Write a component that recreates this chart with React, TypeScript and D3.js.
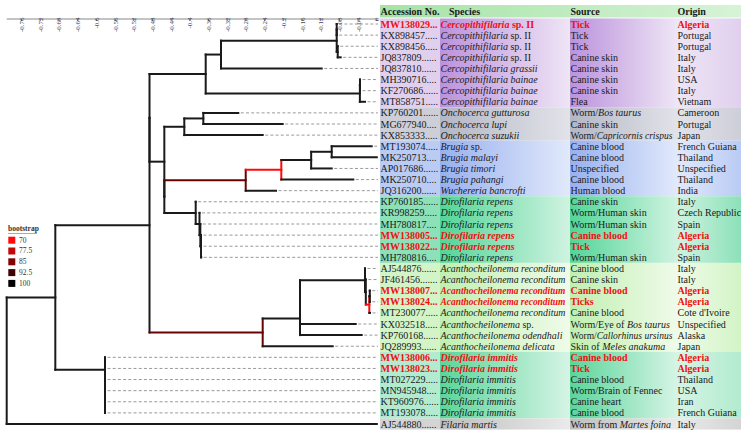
import React from "react";
import * as d3 from "d3";

const W = 747;
const H = 435;

// ---- tree (node label = bootstrap, ":" value = node position on the axis) ----
const cladeCercoSpII = "((L0:-0.0858,L1:-0.0858):-0.0858,(L2:-0.0836,L3:-0.0772):-0.0836)";
const cladeCercoInner = `(${cladeCercoSpII}:-0.0858,L4:-0.1179)`;
const cladeBainae = "((L5:-0.0359,L6:-0.0359):-0.0359,L7:-0.0252)";
const cladeCerco = `(${cladeCercoInner}:-0.3333,${cladeBainae}:-0.0362)`;
const cladeOncho = "((L8:-0.2963,L9:-0.2013):-0.3711,L10:-0.2441)";
const cladeBrugia = "((((L11:-0.0109,L12:0):-0.0965,L13:-0.0965):-0.1404,L14:-0.0503)70:-0.2043,L15:-0.2156)88";
const cladeRepens = "(L16:-0.3874,(L17:-0.3793,(L18:-0.3775,(L19:-0.376,L20:-0.376,L21:-0.3755):-0.376):-0.3775):-0.3793)";
const cladeMid = `(${cladeOncho}:-0.4118,(${cladeBrugia}:-0.2804,${cladeRepens}:-0.3874):-0.4545)`;
const cladeRecond = "(L22:-0.0252,(L23:-0.0235,((L24:-0.015,L25:-0.015):-0.015,L26:-0.0145)70:-0.016):-0.0235)";
const cladeAcanth = `(((${cladeRecond}:-0.0252,L27:-0.0451):-0.1643,L28:-0.0323):-0.1643,L29:-0.0943)88`;
const cladeImmitis = "(L30:-0.5814,(L31:-0.5814,(L32:-0.5814,L33:-0.5814,L34:-0.5814,L35:-0.5814):-0.5814):-0.5814)";
const cladeB = `((${cladeCerco}:-0.366,${cladeMid}:-0.4545):-0.4862,${cladeAcanth}:-0.2441)`;
const treeNewick = `((${cladeB}:-0.4862,${cladeImmitis}:-0.5814):-0.6877,L36:0):-0.7917;`;

// ---- table ----
const accessions = [
  "MW138029", "KX898457", "KX898456", "JQ837809", "JQ837810", "MH390716", "KF270686", "MT858751",
  "KP760201", "MG677940", "KX853333", "MT193074", "MK250713", "AP017686", "MK250710", "JQ316200",
  "KP760185", "KR998259", "MH780817", "MW138005", "MW138022", "MH780816", "AJ544876", "JF461456",
  "MW138007", "MW138024", "MT230077", "KX032518", "KP760168", "JQ289993", "MW138006", "MW138023",
  "MT027229", "MN945948", "KT960976", "MT193078", "AJ544880",
];
const species = [
  "*Cercopithifilaria* sp. II", "*Cercopithifilaria* sp. II", "*Cercopithifilaria* sp. II", "*Cercopithifilaria* sp. II",
  "*Cercopithifilaria grassii*", "*Cercopithifilaria bainae*", "*Cercopithifilaria bainae*", "*Cercopithifilaria bainae*",
  "*Onchocerca gutturosa*", "*Onchocerca lupi*", "*Onchocerca suzukii*",
  "*Brugia* sp.", "*Brugia malayi*", "*Brugia timori*", "*Brugia pahangi*", "*Wuchereria bancrofti*",
  "*Dirofilaria repens*", "*Dirofilaria repens*", "*Dirofilaria repens*", "*Dirofilaria repens*", "*Dirofilaria repens*", "*Dirofilaria repens*",
  "*Acanthocheilonema reconditum*", "*Acanthocheilonema reconditum*", "*Acanthocheilonema reconditum*", "*Acanthocheilonema reconditum*",
  "*Acanthocheilonema reconditum*", "*Acanthocheilonema* sp.", "*Acanthocheilonema odendhali*", "*Acanthocheilonema delicata*",
  "*Dirofilaria immitis*", "*Dirofilaria immitis*", "*Dirofilaria immitis*", "*Dirofilaria immitis*", "*Dirofilaria immitis*", "*Dirofilaria immitis*",
  "*Filaria martis*",
];
const sources = [
  "Tick", "Tick", "Tick", "Canine skin", "Canine skin", "Canine skin", "Canine skin", "Flea",
  "Worm/*Bos taurus*", "Canine skin", "Worm/*Capricornis crispus*",
  "Canine blood", "Canine blood", "Unspecified", "Canine blood", "Human blood",
  "Canine skin", "Worm/Human skin", "Worm/Human skin", "Canine blood", "Tick", "Worm/Human skin",
  "Canine blood", "Canine skin", "Canine blood", "Ticks", "Canine blood", "Worm/Eye of *Bos taurus*",
  "Worm/*Callorhinus ursinus*", "Skin of *Meles anakuma*",
  "Canine blood", "Tick", "Canine blood", "Worm/Brain of Fennec", "Canine heart", "Canine blood",
  "Worm from *Martes foina*",
];
const origins = [
  "Algeria", "Portugal", "Portugal", "Italy", "Italy", "USA", "Italy", "Vietnam",
  "Cameroon", "Portugal", "Japan",
  "French Guiana", "Thailand", "Unspecified", "Thailand", "India",
  "Italy", "Czech Republic", "Spain", "Algeria", "Algeria", "Spain",
  "Italy", "Italy", "Algeria", "Algeria", "Cote d'Ivoire", "Unspecified", "Alaska", "Japan",
  "Algeria", "Algeria", "Thailand", "USA", "Iran", "French Guiana",
  "Italy",
];
const highlightedRows = [0, 19, 20, 24, 25, 30, 31];
const headers = ["Accession No.", "Species", "Source", "Origin"];

// groups of rows with their background colours (accession, dark, light)
const groupNames = ["cerco", "oncho", "brugia", "repens", "acanth", "immitis", "martis"];
const groupSizes = [8, 3, 5, 6, 8, 6, 1];
const groupAccColors = ["#e0d0ee", "#cdced8", "#bacbf4", "#8ce1b9", "#d2f4c6", "#b2ebcf", "#d4d4d4"];
const groupDarkColors = ["#bb92dc", "#b3b6c4", "#98b0ee", "#52d597", "#c0efb0", "#5ad59a", "#bebebe"];
const groupLightColors = ["#eee5f5", "#e2e3e9", "#e1e9fb", "#d0f3e1", "#effbe9", "#d6f4e5", "#eaeaea"];

// bootstrap legend
const legendValues = [70, 77.5, 85, 92.5, 100];

// axis ticks
const tickValues = [-0.76, -0.72, -0.68, -0.64, -0.6, -0.56, -0.52, -0.48, -0.44, -0.4, -0.36, -0.32, -0.28, -0.24, -0.2, -0.16, -0.12, -0.08, -0.04, 0];
const tickLabels = ["-0.76", "-0.72", "-0.68", "-0.64", "-0.6", "-0.56", "-0.52", "-0.48", "-0.44", "-0.4", "-0.36", "-0.32", "-0.28", "-0.24", "-0.2", "-0.16", "-0.12", "-0.08", "-0.04", "0"];

type TNode = { label: string; h: number; children: TNode[] };

function parseNewick(s: string): TNode {
  let i = 0;
  function node(): TNode {
    const n: TNode = { label: "", h: 0, children: [] };
    if (s[i] === "(") {
      i++;
      n.children.push(node());
      while (s[i] === ",") {
        i++;
        n.children.push(node());
      }
      i++;
    }
    let label = "";
    while (i < s.length && !":,);".includes(s[i])) label += s[i++];
    n.label = label;
    if (s[i] === ":") {
      i++;
      let v = "";
      while (i < s.length && !",);".includes(s[i])) v += s[i++];
      n.h = +v;
    }
    return n;
  }
  return node();
}

const FONT = "'Liberation Serif', 'Times New Roman', serif";
let measureCtx: CanvasRenderingContext2D | null = null;
function measure(str: string, size: number, bold: boolean, italic: boolean) {
  if (!measureCtx) measureCtx = document.createElement("canvas").getContext("2d");
  if (!measureCtx) return str.length * size * 0.45;
  measureCtx.font = `${italic ? "italic " : ""}${bold ? "bold " : ""}${size}px ${FONT}`;
  return measureCtx.measureText(str).width;
}
function measureRich(str: string, size: number, bold: boolean) {
  return str.split("*").reduce((s, p, k) => s + (p ? measure(p, size, bold, k % 2 === 1) : 0), 0);
}

function richText(str: string, key: string) {
  const parts = str.split("*");
  return parts.map((p, k) =>
    p ? (
      <tspan key={key + k} fontStyle={k % 2 === 1 ? "italic" : "normal"}>
        {p}
      </tspan>
    ) : null
  );
}

function FitText(props: { x: number; y: number; str: string; maxW: number; bold: boolean; size: number }) {
  const w = measureRich(props.str, props.size, props.bold);
  const size = w > props.maxW ? (props.size * props.maxW) / w : props.size;
  return (
    <text x={props.x} y={props.y} fontSize={size}>
      {richText(props.str, props.str)}
    </text>
  );
}

export default function App() {
  const x = d3.scaleLinear().domain([-0.7917, 0]).range([6.7, 376.8]);
  const y = d3.scaleLinear().domain([0, accessions.length - 1]).range([24, 424]);
  const rowH = y(1) - y(0);
  const boot = d3.scaleLinear<string>().domain([70, 100]).range(["#ff0a0a", "#000000"]).interpolate(d3.interpolateRgb);

  const root = d3.hierarchy(parseNewick(treeNewick), (d) => (d.children.length ? d.children : null));
  const pos = new Map<any, { x: number; y: number }>();
  root.eachAfter((n: any) => {
    const d = n.data as TNode;
    let yy: number;
    if (!n.children) {
      yy = y(+d.label.slice(1));
    } else {
      const c = n.children;
      yy = (pos.get(c[0])!.y + pos.get(c[c.length - 1])!.y) / 2;
    }
    pos.set(n, { x: x(d.h), y: yy });
  });
  const colorOf = (n: any) => (n.children && n.data.label ? boot(+n.data.label) : "#1a1a1a");

  const colX = [380, 440, 570, 677, 741];
  const tipEnd = 378;
  const FS = 10;

  const groupStarts: number[] = [];
  groupSizes.reduce((acc, s) => {
    groupStarts.push(acc);
    return acc + s;
  }, 0);

  const treeLines: React.ReactNode[] = [];
  root.each((n: any) => {
    const p = pos.get(n)!;
    const col = colorOf(n);
    if (n.parent) {
      const pp = pos.get(n.parent)!;
      treeLines.push(
        <line key={"h" + treeLines.length} x1={pp.x} x2={Math.max(p.x, pp.x)} y1={p.y} y2={p.y} stroke={col} strokeWidth={2} strokeLinecap="square" />
      );
    }
    if (n.children) {
      const c = n.children;
      treeLines.push(
        <line key={"v" + treeLines.length} x1={p.x} x2={p.x} y1={pos.get(c[0])!.y} y2={pos.get(c[c.length - 1])!.y} stroke={col} strokeWidth={2} strokeLinecap="square" />
      );
    } else if (p.x < tipEnd - 3) {
      treeLines.push(
        <line key={"d" + treeLines.length} x1={p.x + 2.5} x2={tipEnd} y1={p.y} y2={p.y} stroke="#9a9a9a" strokeWidth={1} strokeDasharray="3,2.2" />
      );
    }
  });

  const accLabel = (acc: string, bold: boolean) => {
    const maxW = colX[1] - colX[0] - 1.5;
    let s = acc;
    while (measure(s + ".", FS, bold, false) <= maxW && s.length < acc.length + 20) s += ".";
    return s;
  };

  return (
    <svg width={W} height={H} style={{ position: "absolute", left: 0, top: 0, background: "#fff" }} fontFamily={FONT}>
      <defs>
        {groupNames.map((g, gi) => (
          <React.Fragment key={g}>
            <linearGradient id={`dl-${g}`} x1="0" x2="1" y1="0" y2="0">
              <stop offset="0" stopColor={groupDarkColors[gi]} />
              <stop offset="1" stopColor={groupLightColors[gi]} />
            </linearGradient>
            <linearGradient id={`ld-${g}`} x1="0" x2="1" y1="0" y2="0">
              <stop offset="0" stopColor={groupLightColors[gi]} />
              <stop offset="1" stopColor={groupAccColors[gi]} />
            </linearGradient>
          </React.Fragment>
        ))}
        <linearGradient id="hdr" x1="0" x2="1" y1="0" y2="0">
          <stop offset="0" stopColor="#a6e3a6" />
          <stop offset="1" stopColor="#d6f3d6" />
        </linearGradient>
      </defs>

      {/* header */}
      <rect x={colX[0]} y={5} width={colX[4] - colX[0]} height={12.5} fill="url(#hdr)" />
      {headers.map((h, i) => (
        <text key={h} x={i === 1 ? colX[1] + 9 : colX[i] + 0.5} y={14.8} fontSize={FS} fontWeight="bold" fill="#1a1a1a">
          {h}
        </text>
      ))}

      {/* group backgrounds */}
      {groupNames.map((g, gi) => {
        const y0 = y(groupStarts[gi]) - rowH / 2;
        const hh = groupSizes[gi] * rowH;
        return (
          <g key={g}>
            <rect x={colX[0]} y={y0} width={colX[1] - colX[0]} height={hh} fill={groupAccColors[gi]} />
            <rect x={colX[1]} y={y0} width={colX[2] - colX[1]} height={hh} fill={`url(#dl-${g})`} />
            <rect x={colX[2]} y={y0} width={colX[3] - colX[2]} height={hh} fill={`url(#dl-${g})`} />
            <rect x={colX[3]} y={y0} width={colX[4] - colX[3]} height={hh} fill={`url(#ld-${g})`} />
          </g>
        );
      })}

      {/* table text */}
      {accessions.map((acc, i) => {
        const red = highlightedRows.includes(i);
        const fill = red ? "#f01010" : "#1a1a1a";
        const yy = y(i) + 3.5;
        return (
          <g key={acc + i} fontSize={FS} fill={fill} fontWeight={red ? "bold" : "normal"}>
            <text x={colX[0] + 0.5} y={yy}>{accLabel(acc, red)}</text>
            <FitText x={colX[1] + 0.5} y={yy} str={species[i]} maxW={colX[2] - colX[1] - 5} bold={red} size={FS} />
            <FitText x={colX[2] + 0.5} y={yy} str={sources[i]} maxW={colX[3] - colX[2] - 5} bold={red} size={FS} />
            <FitText x={colX[3] + 0.5} y={yy} str={origins[i]} maxW={W - colX[3] - 3} bold={red} size={FS} />
          </g>
        );
      })}

      {/* tree */}
      <g>{treeLines}</g>

      {/* axis */}
      <line x1={x.range()[0]} x2={x(0)} y1={19} y2={19} stroke="#888" strokeWidth={1} />
      {tickValues.map((v, i) => (
        <g key={"t" + i}>
          <line x1={x(v)} x2={x(v)} y1={19} y2={21} stroke="#5a5af0" strokeWidth={1} />
          <text transform={`translate(${x(v) + 2.5},17.5) rotate(-90)`} fontSize={7} fill="#444" textAnchor="end">
            {tickLabels[i]}
          </text>
        </g>
      ))}

      {/* legend */}
      <text x={8} y={231} fontSize={7.5} fontWeight="bold" fill="#333">bootstrap</text>
      <line x1={8} x2={37} y1={233.5} y2={233.5} stroke="#aaa" strokeWidth={1} />
      {legendValues.map((v, i) => (
        <g key={"lg" + i}>
          <rect x={8.3} y={236.7 + i * 10.8} width={7} height={7} fill={boot(v)} />
          <text x={19} y={242.5 + i * 10.8} fontSize={7.5} fill="#333">{String(v)}</text>
        </g>
      ))}
    </svg>
  );
}
